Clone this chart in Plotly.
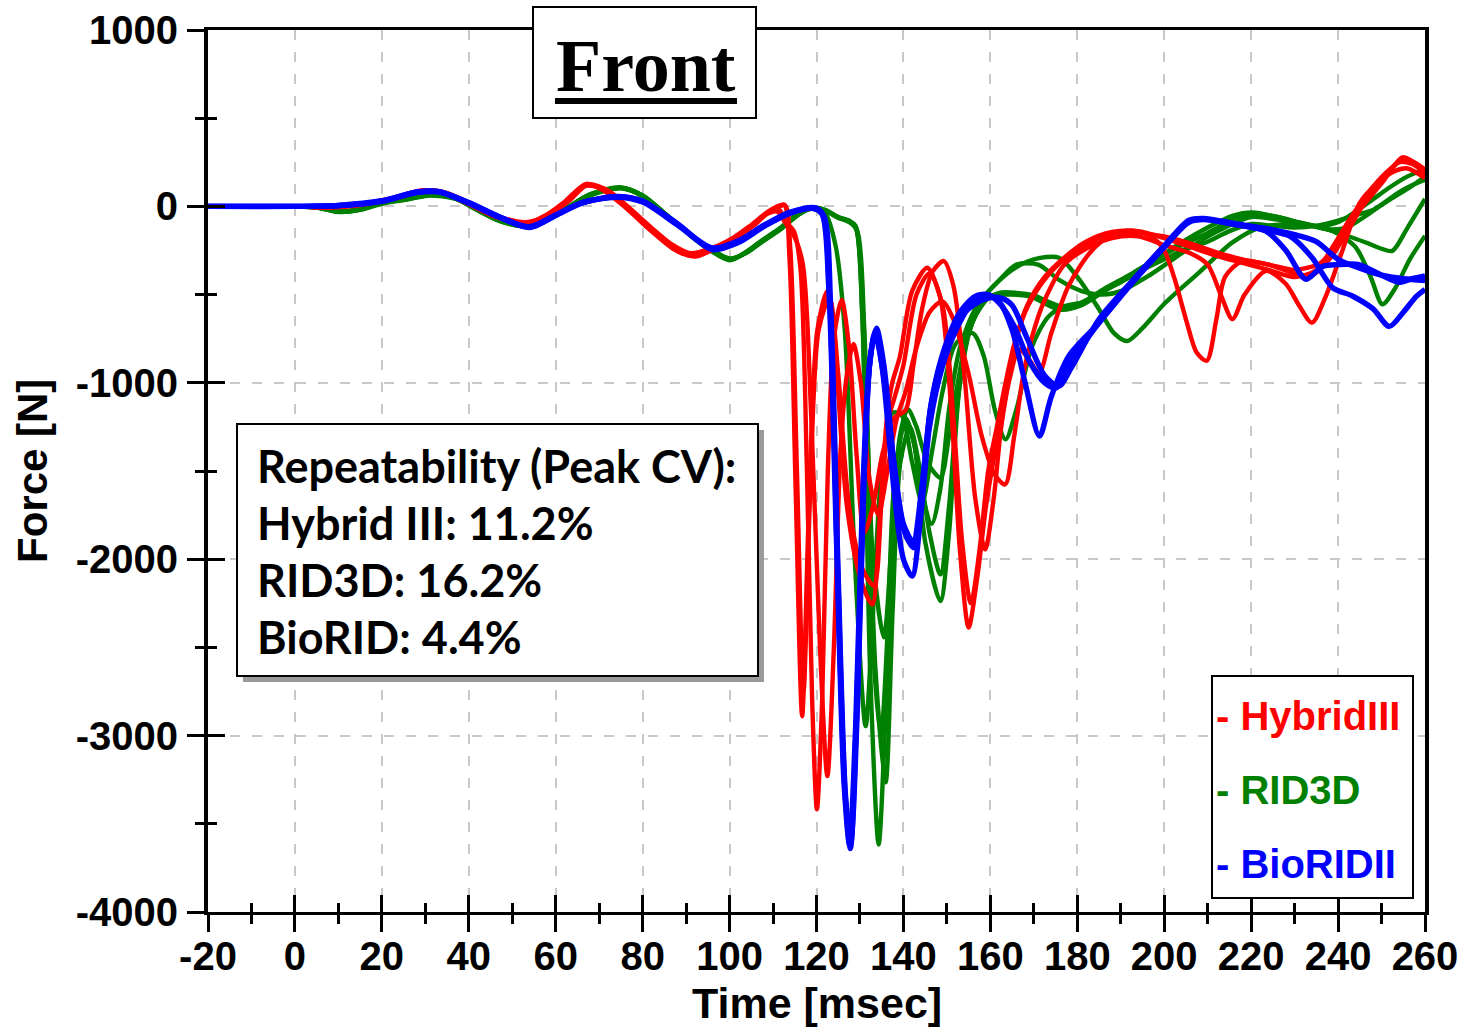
import plotly.graph_objects as go

# Neck shear force, front impact: repeated runs per dummy type, (time [ms], force [N]) samples
HYBRID_III_1 = [(-20, 0), (0, 0), (8, -5), (15, 10), (22, 40), (29, 88), (34, 80), (40, 15), (46, -55), (53, -95),
                (58, -50), (62, 20), (67, 120), (71, 95), (76, 0), (82, -130), (87, -230), (91, -275), (96, -240),
                (101, -180), (105, -110), (108, -45), (111, 0), (112.6, 10), (113.8, -300), (115.2, -1600),
                (116.7, -2890), (118.2, -1750), (120.2, -700), (122.5, -480), (124.5, -900), (127, -1700),
                (130, -2100), (132.8, -2256), (134.6, -1750), (136.2, -1200), (137.4, -1003), (139.2, -850),
                (142, -480), (145.5, -348), (148.5, -520), (151, -1150), (153, -1950), (155, -2388), (157, -2100),
                (159, -1700), (161, -1400), (163, -1150), (165, -850), (168, -600), (172, -430), (176, -320),
                (181, -230), (187, -160), (193, -150), (200, -170), (206, -210), (212, -260), (218, -300),
                (224, -330), (230, -380), (234, -390), (238, -300), (242, -150), (246, 20), (250, 150), (254, 250),
                (257, 240), (260, 190)]
HYBRID_III_2 = [(-20, 0), (0, 0), (8, -3), (15, 12), (22, 45), (30, 92), (35, 75), (41, 10), (47, -60), (54, -100),
                (59, -40), (63, 30), (67.5, 125), (72, 90), (77, -10), (83, -150), (88, -245), (92, -285), (97, -235),
                (102, -170), (106, -100), (109, -35), (111.5, -20), (113, -90), (114.8, -140), (116.3, -350),
                (117.8, -1500), (119, -2800), (120.1, -3418), (121.3, -2800), (122.6, -1500), (124, -750),
                (125.8, -530), (127.5, -800), (129.2, -1400), (131, -1850), (133, -1700), (135.2, -1400),
                (137.8, -1200), (140.5, -1155), (142.3, -900), (144.3, -580), (146.7, -370), (149.3, -310),
                (151.5, -450), (154, -950), (156.5, -1650), (158.8, -1944), (160.8, -1650), (162.5, -1250),
                (164.6, -960), (166.6, -811), (169, -870), (171.2, -947), (174, -720), (178, -450), (183, -260),
                (188, -157), (192.7, -138), (197, -170), (200, -250), (202.5, -420), (205, -640), (207.5, -830),
                (209.8, -875), (212, -640), (214, -400), (218, -310), (224, -330), (230, -360), (236, -320),
                (240, -200), (245, -20), (250, 130), (254.8, 278), (257.5, 250), (260, 210)]
HYBRID_III_3 = [(-20, 0), (0, 0), (8, -6), (15, 8), (22, 38), (29, 85), (34, 82), (40, 20), (46, -50), (53, -90),
                (58, -55), (62, 15), (66.5, 115), (71, 100), (76, 10), (82, -120), (87, -220), (91, -265), (96, -235),
                (101, -175), (105, -105), (108, -50), (111, -30), (113, -100), (114.5, -150), (116.8, -320),
                (118.8, -1200), (120.8, -2500), (122.5, -3230), (124, -2500), (125.5, -1400), (127, -950),
                (128.5, -780), (130.2, -1000), (132.2, -1550), (134.2, -1750), (136.3, -1500), (138.5, -1200),
                (140.5, -1050), (143, -800), (146, -600), (149, -538), (151.5, -640), (155, -950), (158, -1300),
                (161, -1520), (163.4, -1576), (165.5, -1300), (168, -900), (172, -560), (177, -330), (182, -240),
                (188, -180), (194, -170), (200, -220), (206, -265), (210, -330), (213, -500), (215.7, -639),
                (218.5, -500), (223.4, -366), (228, -440), (231, -560), (234, -659), (237, -520), (241, -250),
                (245, 20), (249, 130), (253, 200), (256, 215), (260, 160)]
HYBRID_III_4 = [(-20, 0), (0, 0), (8, -4), (15, 11), (22, 42), (29, 90), (34, 78), (40, 12), (46, -58), (53, -98),
                (58, -45), (62, 25), (67, 128), (71, 90), (76, -5), (82, -140), (87, -240), (91, -280), (96, -245),
                (101, -185), (105, -115), (108, -50), (111, -5), (112.8, 5), (114, -250), (115.5, -1500),
                (117, -2750), (118.5, -1650), (120.5, -700), (123, -520), (125, -950), (127.5, -1700), (130.5, -2050),
                (133.2, -2150), (135, -1650), (136.6, -1200), (138, -1080), (140, -900), (143, -500), (146, -380),
                (149, -560), (151.5, -1200), (153.5, -1900), (155.5, -2250), (157.5, -1950), (159.5, -1500),
                (161.5, -1250), (163.5, -1000), (165.5, -780), (168.5, -560), (172.5, -400), (177, -290),
                (182, -200), (188, -145), (194, -140), (200, -180), (206, -230), (212, -280), (218, -320),
                (224, -360), (230, -400), (235, -360), (239, -220), (243, -60), (247, 80), (251, 190), (255, 265),
                (258, 230), (260, 175)]

RID3D_1 = [(-20, 0), (0, 0), (5, -5), (10, -30), (15, -18), (20, 18), (26, 42), (31, 65), (37, 45), (42, -18),
           (47, -80), (53, -110), (58, -72), (63, -5), (68, 65), (75, 105), (80, 60), (86, -60), (93, -200),
           (100, -300), (104, -260), (107, -205), (112, -120), (116, -40), (119, -10), (122, -40), (124.4, -224),
           (126.5, -700), (128.8, -2000), (131.3, -2946), (133, -2300), (135, -1500), (137.5, -1170), (139.5, -1180),
           (142, -1450), (144.3, -1680), (146.5, -1400), (149, -1050), (152, -780), (155.9, -718), (158.5, -850),
           (161, -1150), (163.5, -1321), (166, -1150), (169.5, -800), (173.5, -621), (178, -560), (181, -545),
           (186, -470), (192.7, -380), (198, -300), (204, -220), (210, -150), (216, -70), (220, -40), (226, -60),
           (231, -91), (238.7, -140), (244, -230), (247.5, -400), (250.2, -555), (253, -470), (256.5, -300),
           (260, -167)]
RID3D_2 = [(-20, 0), (0, 0), (5, -6), (10, -28), (15, -15), (20, 20), (26, 45), (31, 68), (37, 48), (42, -20),
           (47, -82), (53, -112), (58, -70), (63, 0), (68, 70), (75, 108), (80, 62), (86, -58), (93, -205),
           (100, -305), (104, -255), (107, -200), (112, -115), (116, -35), (119, -5), (122, -20), (125, -60),
           (127.5, -80), (129, -110), (130.5, -600), (132.3, -2600), (134.3, -3617), (136, -2800), (137.8, -1600),
           (140.5, -1200), (142.5, -1350), (145, -1900), (148.5, -2237), (150.5, -1850), (153, -1000), (156, -650),
           (160, -510), (164, -500), (169, -510), (176, -585), (181, -560), (188, -450), (193, -375), (198, -300),
           (204, -204), (210, -120), (215.7, -53), (220.3, -34), (226, -60), (231, -91), (238.7, -138),
           (246.4, -205), (250, -240), (252.5, -252), (256, -120), (260, 42)]
RID3D_3 = [(-20, 0), (0, 0), (5, -4), (10, -32), (15, -20), (20, 15), (26, 40), (31, 62), (37, 42), (42, -22),
           (47, -78), (53, -108), (58, -75), (63, -8), (68, 62), (75, 102), (80, 58), (86, -62), (93, -195),
           (100, -295), (104, -262), (107, -210), (112, -125), (116, -45), (119, -12), (122, -25), (125, -65),
           (127.8, -90), (129.5, -150), (131, -700), (133.5, -2600), (135.9, -3265), (137.5, -2300), (139.3, -1450),
           (141.5, -1250), (143.5, -1450), (146, -1850), (148.5, -2086), (150.5, -1700), (152.5, -1100),
           (155, -720), (159, -500), (165, -360), (170, -300), (175.8, -291), (180, -400), (185, -583),
           (188.5, -720), (191.5, -763), (195, -690), (200.3, -545), (208, -375), (215.7, -204), (222, -120),
           (230, -100), (236, -110), (240, -90), (244, -30), (248, 40), (252, 110), (256, 170), (260, 212)]
RID3D_4 = [(-20, 0), (0, 0), (5, -5), (10, -29), (15, -16), (20, 19), (26, 44), (31, 66), (37, 44), (42, -19),
           (47, -81), (53, -109), (58, -71), (63, -3), (68, 66), (75, 104), (80, 59), (86, -61), (93, -198),
           (100, -298), (104, -258), (107, -203), (112, -118), (116, -38), (119, -7), (122, -22), (125, -62),
           (127.6, -85), (129.2, -130), (130.8, -650), (133, -2000), (135.5, -2443), (137.3, -1900), (139.2, -1300),
           (141, -1150), (143, -1250), (145.5, -1450), (148.5, -1538), (150.5, -1300), (152.5, -1000), (155, -700),
           (158.5, -540), (162, -490), (166, -490), (170, -505), (176, -564), (181, -545), (186, -480), (190, -430),
           (195, -360), (200, -300), (205, -240), (210, -200), (215, -140), (220, -100), (225, -110), (230, -120),
           (235, -110), (240, -80), (244, -50), (248, -20), (252, 40), (256, 100), (260, 170)]
RID3D_5 = [(-20, 0), (0, 0), (5, -6), (10, -31), (15, -17), (20, 17), (26, 43), (31, 64), (37, 46), (42, -21),
           (47, -79), (53, -111), (58, -73), (63, -2), (68, 68), (75, 106), (80, 61), (86, -59), (93, -202),
           (100, -302), (104, -257), (107, -207), (112, -122), (116, -42), (119, -9), (122, -22), (125, -62),
           (127.4, -88), (129, -120), (130.6, -650), (132.5, -2300), (134.8, -3000), (136.6, -2300), (138.5, -1450),
           (140.5, -1200), (142.5, -1350), (144.5, -1650), (146.5, -1800), (148.5, -1600), (150.5, -1150),
           (153, -800), (157, -560), (162, -420), (166, -330), (171, -330), (176, -420), (181, -480), (186, -500),
           (190, -480), (196, -400), (202, -300), (208, -200), (214, -120), (220, -60), (226, -75), (232, -100),
           (238, -130), (242, -120), (246, -60), (250, 10), (254, 80), (257, 120), (260, 150)]

BIORID_II_1 = [(-20, 0), (0, 0), (10, 5), (20, 30), (28, 82), (33, 85), (40, 20), (47, -60), (54, -120), (60, -50),
               (66, 20), (74, 55), (80, 30), (88, -100), (96, -240), (102, -200), (108, -110), (114, -35),
               (119.5, -10), (121.5, -50), (123, -500), (124.8, -2000), (126.5, -3300), (127.8, -3640),
               (129.2, -2900), (130.8, -1600), (132.2, -900), (133.6, -700), (135.3, -950), (137.8, -1600),
               (140, -2000), (142, -2096), (144, -1750), (146, -1250), (149, -905), (152.5, -680), (156, -540),
               (159, -505), (162, -540), (165, -700), (168, -1000), (171.3, -1302), (174, -1080), (178, -850),
               (185, -659), (192.7, -432), (200.3, -224), (205.7, -85), (209, -72), (215.7, -100), (223.4, -135),
               (229, -170), (234, -290), (238.7, -460), (243.3, -508), (248, -580), (251.8, -680), (255, -600),
               (258, -510), (260, -470)]
BIORID_II_2 = [(-20, 0), (0, 0), (10, 4), (20, 28), (28, 78), (33, 82), (40, 18), (47, -62), (54, -115), (60, -48),
               (66, 22), (74, 52), (80, 25), (88, -105), (96, -235), (102, -195), (108, -105), (114, -32),
               (119.8, -8), (121.8, -60), (123.3, -600), (125, -2100), (126.7, -3350), (127.9, -3600),
               (129.4, -2850), (131, -1500), (132.4, -850), (133.8, -690), (135.5, -900), (138, -1500),
               (140.3, -1850), (142.4, -1935), (144.5, -1550), (146.5, -1100), (149.5, -800), (153, -600),
               (156.5, -510), (159.5, -500), (162.5, -560), (165.5, -680), (169, -880), (172.5, -1000),
               (175.2, -1028), (178, -900), (185, -660), (192.7, -430), (200.3, -220), (205.7, -90), (209, -75),
               (215.7, -100), (223.4, -140), (228, -250), (232.6, -413), (236.4, -340), (240, -330), (244.8, -330),
               (250, -390), (254, -430), (257, -410), (260, -394)]
BIORID_II_3 = [(-20, 0), (0, 0), (10, 6), (20, 32), (28, 80), (33, 84), (40, 22), (47, -58), (54, -118), (60, -52),
               (66, 18), (74, 56), (80, 28), (88, -98), (96, -245), (102, -205), (108, -112), (114, -38),
               (119.3, -12), (121.3, -45), (122.8, -450), (124.6, -1900), (126.3, -3250), (127.6, -3620),
               (129, -2950), (130.6, -1650), (132, -950), (133.4, -720), (135.2, -920), (137.8, -1450), (140, -1800),
               (142.2, -1900), (144.2, -1600), (146.2, -1150), (149, -850), (152.5, -650), (156, -560),
               (159.5, -520), (162.5, -520), (165, -560), (168.5, -750), (172.5, -960), (175.8, -1019),
               (178.5, -920), (185, -640), (192.7, -420), (200.3, -215), (205.7, -78), (209, -68), (215.7, -95),
               (223.4, -125), (230, -160), (235, -200), (240, -300), (245, -350), (250, -390), (255, -410),
               (260, -420)]

RED, GREEN, BLUE = "#ff0000", "#008000", "#0000ff"
GROUPS = [
    ("RID3D", GREEN, 4.4, [RID3D_1, RID3D_2, RID3D_3, RID3D_4, RID3D_5]),
    ("HybridIII", RED, 4.4, [HYBRID_III_1, HYBRID_III_2, HYBRID_III_3, HYBRID_III_4]),
    ("BioRIDII", BLUE, 5.4, [BIORID_II_1, BIORID_II_2, BIORID_II_3]),
]
LEGEND_ORDER = [("HybridIII", RED), ("RID3D", GREEN), ("BioRIDII", BLUE)]
CV_LINES = ["Repeatability (Peak CV):", "Hybrid III: 11.2%", "RID3D: 16.2%", "BioRID: 4.4%"]

X_TICKS = list(range(-20, 261, 20))
X_TICK_LABELS = ["-20", "0", "20", "40", "60", "80", "100", "120", "140", "160", "180", "200", "220", "240", "260"]
Y_TICKS = list(range(-4000, 1001, 1000))
Y_TICK_LABELS = ["-4000", "-3000", "-2000", "-1000", "0", "1000"]
X_TITLE, Y_TITLE = "Time [msec]", "Force [N]"

W, H = 1468, 1030
L, R, T, B = 208, 43, 30, 118
PW, PH = W - L - R, H - T - B


def px(x):
    return (x - L) / PW


def py(y):
    return (H - B - y) / PH


fig = go.Figure()
for name, color, width, runs in GROUPS:
    for run in runs:
        t = [p[0] for p in run]
        f = [p[1] for p in run]
        fig.add_trace(go.Scatter(
            x=t, y=f, mode="lines", name=name, legendgroup=name, showlegend=False,
            line=dict(color=color, width=width, shape="spline", smoothing=0.8),
        ))

# companion axes carry the inward half of each tick so ticks straddle the axis lines
fig.add_trace(go.Scatter(x=[None], y=[None], xaxis="x2", yaxis="y2", showlegend=False, hoverinfo="skip"))

tick_font = dict(family="Liberation Sans", size=40, color="black", weight="bold")
grid = dict(showgrid=True, gridcolor="#c8c8c8", gridwidth=1.5, griddash="10px,12px")

fig.update_layout(
    width=W, height=H, margin=dict(l=L, r=R, t=T, b=B, autoexpand=False),
    paper_bgcolor="white", plot_bgcolor="white", showlegend=False,
    xaxis=dict(range=[-20, 260], tickvals=X_TICKS, ticktext=X_TICK_LABELS, ticks="outside", ticklen=17,
               tickwidth=3, tickcolor="black", automargin=False,
               minor=dict(ticks="outside", ticklen=9, tickwidth=3, tickcolor="black", dtick=10, tick0=0,
                          showgrid=False),
               showline=True, linecolor="black", linewidth=3, mirror=True, zeroline=False,
               tickfont=tick_font, ticklabelstandoff=-10, **grid),
    yaxis=dict(range=[-4000, 1000], tickvals=Y_TICKS, ticktext=Y_TICK_LABELS, ticks="outside", ticklen=17,
               tickwidth=3, tickcolor="black", automargin=False,
               minor=dict(ticks="outside", ticklen=9, tickwidth=3, tickcolor="black", dtick=500, tick0=0,
                          showgrid=False),
               showline=True, linecolor="black", linewidth=4, mirror=True, zeroline=False,
               tickfont=tick_font, ticklabelstandoff=1, **grid),
    xaxis2=dict(overlaying="x", matches="x", anchor="y", range=[-20, 260], tickvals=X_TICKS, ticks="inside",
                ticklen=17, tickwidth=3, tickcolor="black", showticklabels=False, showgrid=False, zeroline=False,
                automargin=False,
                minor=dict(ticks="inside", ticklen=9, tickwidth=3, tickcolor="black", dtick=10, tick0=0)),
    yaxis2=dict(overlaying="y", matches="y", anchor="x", side="left", range=[-4000, 1000], tickvals=Y_TICKS,
                ticks="inside", ticklen=17, tickwidth=3, tickcolor="black", showticklabels=False, showgrid=False,
                zeroline=False, automargin=False,
                minor=dict(ticks="inside", ticklen=9, tickwidth=3, tickcolor="black", dtick=500, tick0=0)),
)

# axis titles placed explicitly below / left of the frame
fig.add_annotation(text=X_TITLE, xref="paper", yref="paper", x=0.5, y=py(1028), xanchor="center",
                   yanchor="bottom", showarrow=False, borderpad=0,
                   font=dict(family="Liberation Sans", size=43, color="black", weight="bold"))
fig.add_annotation(text=Y_TITLE, xref="paper", yref="paper", x=px(32), y=0.5, xanchor="center",
                   yanchor="middle", showarrow=False, textangle=-90,
                   font=dict(family="Liberation Sans", size=42, color="black", weight="bold"))

shapes = [
    # "Front" title box and underline
    dict(type="rect", xref="paper", yref="paper", x0=px(533), x1=px(756), y0=py(118), y1=py(7),
         line=dict(color="black", width=2), fillcolor="white", layer="above"),
    dict(type="line", xref="paper", yref="paper", x0=px(555), x1=px(737), y0=py(101), y1=py(101),
         line=dict(color="black", width=6), layer="above"),
    # repeatability box with drop shadow
    dict(type="rect", xref="paper", yref="paper", x0=px(243), x1=px(764), y0=py(682), y1=py(430),
         line=dict(width=0), fillcolor="#9a9a9a", layer="above"),
    dict(type="rect", xref="paper", yref="paper", x0=px(237), x1=px(758), y0=py(676), y1=py(424),
         line=dict(color="black", width=2), fillcolor="white", layer="above"),
    # legend box
    dict(type="rect", xref="paper", yref="paper", x0=px(1212), x1=px(1413), y0=py(898), y1=py(676),
         line=dict(color="black", width=2), fillcolor="white", layer="above"),
]
fig.update_layout(shapes=shapes)

fig.add_annotation(text="Front", xref="paper", yref="paper", x=px(646), y=py(66), xanchor="center",
                   yanchor="middle", showarrow=False,
                   font=dict(family="Liberation Serif", size=74, color="black", weight="bold"))

for i, line in enumerate(CV_LINES):
    fig.add_annotation(text=line, xref="paper", yref="paper", x=px(255), y=py(466 + 57 * i), xanchor="left",
                       yanchor="middle", showarrow=False,
                       font=dict(family="Lato", size=45, color="black", weight="bold"))

for i, (name, color) in enumerate(LEGEND_ORDER):
    fig.add_annotation(text="- " + name, xref="paper", yref="paper", x=px(1214), y=py(716 + 74 * i),
                       xanchor="left", yanchor="middle", showarrow=False,
                       font=dict(family="Liberation Sans", size=40, color=color, weight="bold"))

fig.write_html("out.html")
